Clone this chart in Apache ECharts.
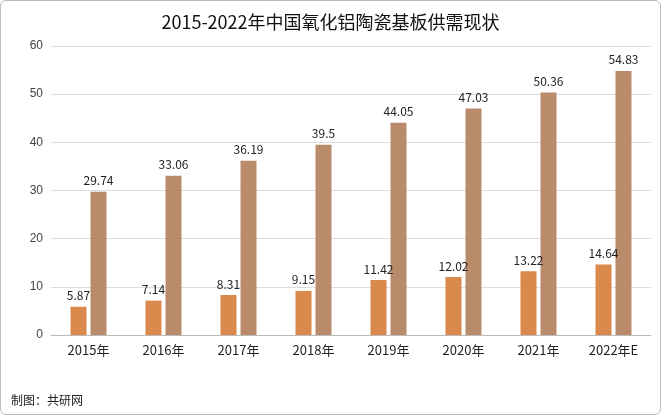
<!DOCTYPE html>
<html><head><meta charset="utf-8">
<script src="https://cdn.jsdelivr.net/npm/echarts@6/dist/echarts.min.js"></script>
<style>html,body{margin:0;padding:0;background:#fff}#c{width:661px;height:415px;box-sizing:border-box;border:1px solid #bbb;border-radius:6px}</style>
</head><body><div id="c"></div>
<script>
const categories=['2015年','2016年','2017年','2018年','2019年','2020年','2021年','2022年E'];
const supply=[5.87,7.14,8.31,9.15,11.42,12.02,13.22,14.64];
const demand=[29.74,33.06,36.19,39.5,44.05,47.03,50.36,54.83];
const ch=echarts.init(document.getElementById('c'));
const lbl={show:true,position:'top',color:'#222',fontSize:12,fontFamily:'Noto Sans CJK SC'};
ch.setOption({
 animation:false,
 title:{text:'2015-2022年中国氧化铝陶瓷基板供需现状',left:'center',top:7,textStyle:{fontSize:18,fontWeight:'normal',color:'#111',fontFamily:'Noto Sans CJK SC'}},
 graphic:[{type:'text',left:10,bottom:8,style:{text:'制图：共研网',fontSize:12,fill:'#222',fontFamily:'Noto Sans CJK SC'}}],
 grid:{left:50,right:9,top:45,bottom:79},
 xAxis:{type:'category',data:categories,axisTick:{show:false},axisLine:{lineStyle:{color:'#bbb'}},axisLabel:{color:'#222',fontSize:13,fontFamily:'Noto Sans CJK SC',margin:9}},
 yAxis:{type:'value',min:0,max:60,interval:10,axisLabel:{color:'#444',fontSize:12},splitLine:{lineStyle:{color:'#ddd'}}},
 series:[
  {type:'bar',data:supply,barWidth:16,barGap:'25%',itemStyle:{color:'#D9894B'},label:lbl},
  {type:'bar',data:demand,barWidth:16,itemStyle:{color:'#B98B6B'},label:lbl}
 ]
});
</script></body></html>
